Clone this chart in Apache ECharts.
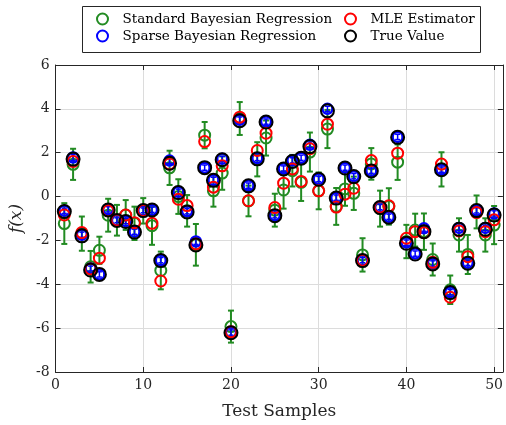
<!DOCTYPE html>
<html><head><meta charset="utf-8">
<script src="https://cdn.jsdelivr.net/npm/echarts@6/dist/echarts.min.js"></script>
<style>html,body{margin:0;padding:0;background:#fff}#c{width:506px;height:425px}</style>
</head><body><div id="c"></div>
<script>
// ---- data ----
const samples = Array.from({length: 50}, (_, i) => i + 1);
const trueValue = [-0.68,1.71,-1.79,-3.35,-3.55,-0.61,-1.09,-1.14,-1.62,-0.64,
  -0.61,-2.92,1.52,0.18,-0.70,-2.21,1.32,0.74,1.68,-6.21,
  3.46,0.49,1.72,3.40,-0.87,1.26,1.60,1.75,2.28,0.79,
  3.91,-0.07,1.30,0.91,-2.92,1.17,-0.50,-0.94,2.70,-2.13,
  -2.62,-1.60,-3.07,1.22,-4.38,-1.49,-3.04,-0.64,-1.49,-0.84];
const sparseMean = [-0.65,1.78,-1.74,-3.28,-3.55,-0.58,-1.08,-1.12,-1.60,-0.63,
  -0.60,-2.90,1.64,0.22,-0.67,-2.05,1.32,0.76,1.72,-6.20,
  3.50,0.50,1.76,3.42,-0.85,1.28,1.65,1.77,2.36,0.80,
  4.00,-0.05,1.32,0.93,-2.90,1.18,-0.48,-0.92,2.72,-2.10,
  -2.60,-1.45,-3.05,1.23,-4.36,-1.43,-3.02,-0.63,-1.43,-0.77];
const sparseErr = [0.12,0.13,0.12,0.11,0.12,0.12,0.11,0.12,0.12,0.11,
  0.12,0.12,0.13,0.12,0.12,0.13,0.12,0.12,0.12,0.12,
  0.13,0.12,0.12,0.12,0.12,0.12,0.12,0.12,0.13,0.12,
  0.12,0.12,0.12,0.12,0.12,0.12,0.12,0.12,0.12,0.12,
  0.12,0.13,0.12,0.12,0.12,0.12,0.12,0.12,0.12,0.12];
const mleValue = [-0.84,1.60,-1.64,-3.30,-2.81,-0.65,-1.07,-0.84,-1.19,-0.64,
  -1.22,-3.85,1.49,-0.12,-0.41,-2.16,2.51,0.43,1.40,-6.17,
  3.62,-0.19,2.10,2.89,-0.50,0.61,1.26,0.69,2.18,0.26,
  3.30,-0.48,0.11,0.38,-2.90,1.64,-0.48,-0.42,1.98,-1.90,
  -1.60,-1.65,-3.00,1.48,-4.59,-1.57,-2.74,-0.73,-1.60,-1.06];
const standardMean = [-1.23,1.47,-1.69,-3.20,-2.45,-0.85,-1.08,-0.84,-1.22,-0.65,
  -1.33,-3.37,1.31,0.00,-0.65,-2.20,2.80,0.26,1.07,-5.93,
  3.56,-0.20,1.70,2.67,-0.62,0.30,1.18,0.65,2.03,0.26,
  3.08,-0.45,0.35,0.15,-2.66,1.49,-0.55,-0.45,1.57,-2.05,
  -1.53,-1.60,-2.87,1.24,-4.25,-1.75,-2.64,-0.70,-1.75,-1.30];
const standardErr = [0.93,0.71,0.78,0.72,0.62,0.75,0.70,0.68,0.76,0.58,
  0.87,0.86,0.78,0.79,0.72,0.95,0.60,0.72,0.76,0.73,
  0.75,0.70,0.78,0.80,0.75,0.85,0.72,0.85,0.89,0.84,
  0.87,0.84,0.77,0.76,0.76,0.72,0.82,0.83,0.81,0.76,
  0.75,0.83,0.73,0.78,0.65,0.76,0.89,0.75,0.76,0.87];
const xTicks = [0, 10, 20, 30, 40, 50];
const yTicks = [-8, -6, -4, -2, 0, 2, 4, 6];
const names = ['Standard Bayesian Regression', 'Sparse Bayesian Regression', 'MLE Estimator', 'True Value'];

// ---- styling ----
const GREEN = '#228b22', BLUE = '#0000ff', RED = '#ff0000', BLACK = '#000000';
const AX = '#262626', GRID = '#dcdcdc';
const FONT = 'DejaVu Serif';

function pts(arr) { return samples.map((s, i) => [s, arr[i]]); }
function bars(mean, err) { return samples.map((s, i) => [s, mean[i] - err[i], mean[i] + err[i]]); }
function errRender(color, cap, lw) {
  return function (params, api) {
    const x = api.value(0);
    const a = api.coord([x, api.value(1)]);
    const b = api.coord([x, api.value(2)]);
    const st = {stroke: color, lineWidth: lw};
    return {type: 'group', children: [
      {type: 'line', shape: {x1: a[0], y1: a[1], x2: b[0], y2: b[1]}, style: st},
      {type: 'line', shape: {x1: a[0] - cap, y1: a[1], x2: a[0] + cap, y2: a[1]}, style: st},
      {type: 'line', shape: {x1: b[0] - cap, y1: b[1], x2: b[0] + cap, y2: b[1]}, style: st}
    ]};
  };
}
function ring(name, data, color, size, lw, z) {
  return {name, type: 'scatter', data, symbol: 'circle', symbolSize: size, z,
    itemStyle: {color: 'rgba(0,0,0,0)', borderColor: color, borderWidth: lw, opacity: 1},
    emphasis: {disabled: true}, animation: false};
}
const axisCommon = {
  type: 'value', axisLine: {show: true, onZero: false, lineStyle: {color: AX, width: 1}},
  axisTick: {show: true, inside: true, length: 5, lineStyle: {color: AX}},
  splitLine: {show: false}
};
const chart = echarts.init(document.getElementById('c'), null, {renderer: 'canvas'});
const legendText = {fontFamily: FONT, fontSize: 13.5, color: '#000', padding: [0, 0, 0, 4]};
function legItem(name, color) {
  return {name, icon: 'circle', itemStyle: {color: '#fff', borderColor: color, borderWidth: 2}};
}
chart.setOption({
  animation: false,
  grid: {left: 55, right: 0.5, top: 65, bottom: 53, containLabel: false},
  xAxis: [
    Object.assign({}, axisCommon, {min: 0, max: 51, interval: 10, position: 'bottom',
      axisLabel: {fontFamily: FONT, fontSize: 14, color: AX, margin: 6,
        formatter: v => xTicks.includes(v) ? String(v) : ''},
      splitLine: {show: true, lineStyle: {color: GRID, width: 1}},
      name: 'Test Samples', nameLocation: 'middle', nameGap: 31,
      nameTextStyle: {fontFamily: FONT, fontSize: 17, color: AX}}),
    Object.assign({}, axisCommon, {min: 0, max: 51, interval: 10, position: 'top', axisLabel: {show: false}})
  ],
  yAxis: [
    Object.assign({}, axisCommon, {min: -8, max: 6, interval: 2, position: 'left',
      axisLabel: {fontFamily: FONT, fontSize: 14, color: AX, margin: 6,
        formatter: v => yTicks.includes(v) ? String(v) : ''},
      splitLine: {show: true, lineStyle: {color: GRID, width: 1}},
      name: 'f(x)', nameLocation: 'middle', nameGap: 22, nameRotate: 90,
      nameTextStyle: {fontFamily: FONT, fontSize: 17, fontStyle: 'italic', color: AX}}),
    Object.assign({}, axisCommon, {min: -8, max: 6, interval: 2, position: 'right', axisLabel: {show: false}})
  ],
  legend: [
    {orient: 'vertical', left: 91, top: 7, itemWidth: 22, itemHeight: 11, itemGap: 3,
      textStyle: legendText, selectedMode: false,
      data: [legItem(names[0], GREEN), legItem(names[1], BLUE)]},
    {orient: 'vertical', left: 339, top: 7, itemWidth: 22, itemHeight: 11, itemGap: 3,
      textStyle: legendText, selectedMode: false,
      data: [legItem(names[2], RED), legItem(names[3], BLACK)]}
  ],
  graphic: [{type: 'rect', left: 82, top: 6, shape: {width: 398, height: 46},
    style: {fill: '#fff', stroke: AX, lineWidth: 1}, z: -1}],
  series: [
    {type: 'custom', name: 'stdErr', renderItem: errRender(GREEN, 3, 2), data: bars(standardMean, standardErr), z: 2, silent: true},
    ring(names[0], pts(standardMean), GREEN, 11, 2, 3),
    {type: 'custom', name: 'sparseErr', renderItem: errRender(BLUE, 2.5, 1.5), data: bars(sparseMean, sparseErr), z: 4, silent: true},
    ring(names[1], pts(sparseMean), BLUE, 10, 2.5, 4),
    ring(names[2], pts(mleValue), RED, 11, 2, 5),
    ring(names[3], pts(trueValue), BLACK, 13, 2, 6)
  ]
});
</script></body></html>
